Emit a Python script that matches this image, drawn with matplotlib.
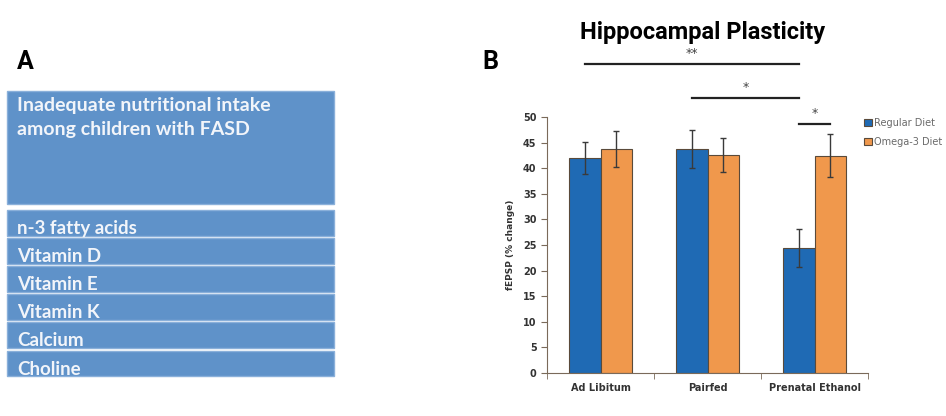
import matplotlib.pyplot as plt
from matplotlib.patches import Rectangle
import numpy as np

# panel A
HEADER = "Inadequate nutritional intake\namong children with FASD"
NUTRIENTS = ["n-3 fatty acids", "Vitamin D", "Vitamin E", "Vitamin K", "Calcium", "Choline"]

# panel B
GROUPS = ["Ad Libitum", "Pairfed", "Prenatal Ethanol"]
REGULAR = [42.0, 43.7, 24.5]
REGULAR_ERR = [3.1, 3.7, 3.7]
OMEGA3 = [43.8, 42.6, 42.4]
OMEGA3_ERR = [3.5, 3.3, 4.2]
SERIES = ["Regular Diet", "Omega-3 Diet"]
# significance brackets: (x from, x to, height, label)
SIG = [(-0.145, 1.855, 60.4, "**"), (0.855, 1.855, 53.7, "*"), (1.855, 2.145, 48.6, "*")]

W, H = 946, 416
fig = plt.figure(figsize=(W / 100, H / 100), dpi=100)

BOX = "#5f92c9"
BOX_TEXT = "#f2f5fa"
EDGE = "#8ab0da"
HEAD_FONT = ["Roboto", "DejaVu Sans"]


def px(x, y):
    return x / W, 1 - y / H


# ---- panel A ----
fig.text(*px(17, 62), "A", fontsize=18, fontweight="bold",
         family=HEAD_FONT, va="center", ha="left")
fig.text(*px(482, 62), "B", fontsize=18, fontweight="bold",
         family=HEAD_FONT, va="center", ha="left")

x0, x1 = 7, 334
top, bot = 91, 204
fig.patches.append(Rectangle(px(x0, bot), (x1 - x0) / W, (bot - top) / H,
                             transform=fig.transFigure, facecolor=BOX, edgecolor=EDGE, lw=1))
fig.text(*px(17, 97), HEADER, fontsize=14, fontweight="bold", color=BOX_TEXT,
         family=["Lato", "DejaVu Sans"], va="top", ha="left", linespacing=1.5)

row_top = 210
row_h = 28.1
for i, name in enumerate(NUTRIENTS):
    t = row_top + i * row_h
    b = t + row_h - 2.5
    fig.patches.append(Rectangle(px(x0, b), (x1 - x0) / W, (b - t) / H,
                                 transform=fig.transFigure, facecolor=BOX, edgecolor=EDGE, lw=1))
    fig.text(*px(17, b + 1.5), name, fontsize=13.5, fontweight="bold", color=BOX_TEXT,
             family=["Lato", "DejaVu Sans"], va="bottom", ha="left")

# ---- panel B ----
ax = fig.add_axes([547 / W, 1 - 373 / H, (868 - 547) / W, (373 - 117) / H])
x = np.arange(len(GROUPS))
bw = 0.29
err_kw = dict(ecolor="#3a3a3a", elinewidth=1, capsize=2.5, capthick=1)
ax.bar(x - bw / 2, REGULAR, bw, yerr=REGULAR_ERR, color="#1f6ab4", edgecolor="#5a4a3a",
       lw=0.8, error_kw=err_kw, label=SERIES[0])
ax.bar(x + bw / 2, OMEGA3, bw, yerr=OMEGA3_ERR, color="#f0984c", edgecolor="#5a4a3a",
       lw=0.8, error_kw=err_kw, label=SERIES[1])

ax.set_xlim(-0.5, 2.5)
ax.set_ylim(0, 50)
ax.set_yticks(np.arange(0, 51, 5))
ax.set_xticks(x)
ax.set_xticklabels(GROUPS, fontsize=7, fontweight="bold", color="#333333")
ax.set_xticks([-0.5, 0.5, 1.5, 2.5], minor=True)
ax.tick_params(axis="x", which="major", length=0, pad=7)
ax.tick_params(axis="x", which="minor", length=4, color="#7a6a5a", direction="out")
ax.tick_params(axis="y", length=4, color="#7a6a5a", labelsize=7, labelcolor="#333333")
for lab in ax.get_yticklabels():
    lab.set_fontweight("bold")
for s in ["top", "right"]:
    ax.spines[s].set_visible(False)
for s in ["left", "bottom"]:
    ax.spines[s].set_color("#7a6a5a")
ax.set_ylabel("fEPSP (% change)", fontsize=6.5, fontweight="bold", color="#333333", labelpad=6)

for xa, xb, yv, lab in SIG:
    ax.plot([xa, xb], [yv, yv], color="#222222", lw=1.6, clip_on=False)
    ax.text((xa + xb) / 2, yv + 0.8, lab, ha="center", va="bottom", fontsize=9,
            color="#444444", clip_on=False)

ax.legend(loc="upper left", bbox_to_anchor=(0.96, 1.03), frameon=False, fontsize=7,
          handlelength=0.8, handleheight=0.8, handletextpad=0.2, labelspacing=0.9,
          labelcolor="#6a6a6a")

fig.text(*px(703, 32), "Hippocampal Plasticity", fontsize=17, fontweight="bold",
         family=HEAD_FONT, ha="center", va="center")

fig.savefig("out.png", dpi=100)
